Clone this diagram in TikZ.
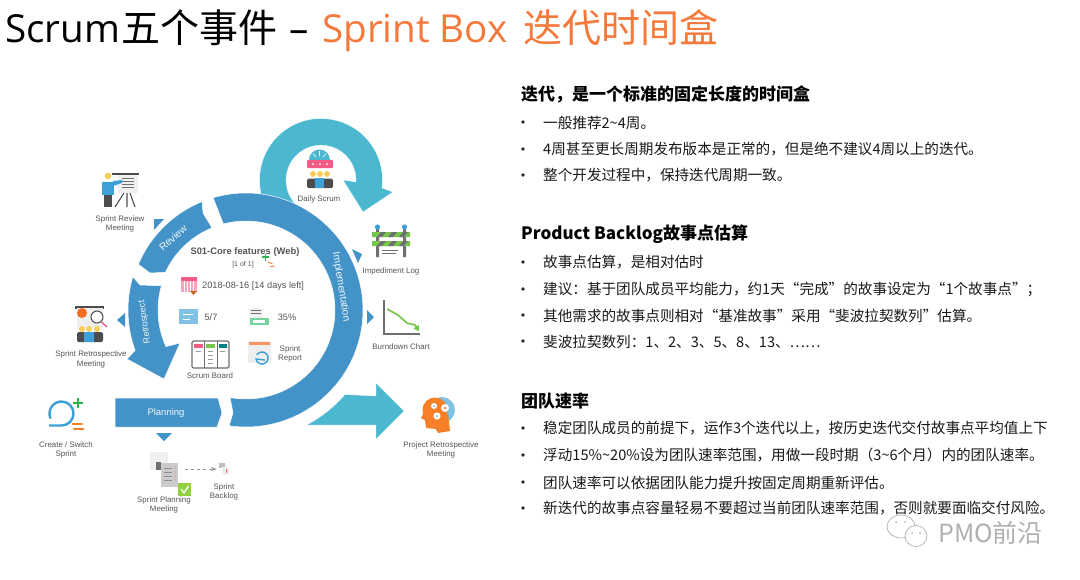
\documentclass[tikz,border=0pt]{standalone}
\usepackage{fontspec}
\setmainfont{Liberation Sans}
\newfontfamily\cjk{Noto Sans CJK SC}
\newfontfamily\titlefont{Open Sans}
\usetikzlibrary{positioning,arrows.meta}
\definecolor{ringblue}{HTML}{4393C8}
\definecolor{loopteal}{HTML}{4BB8D0}
\definecolor{titleorange}{HTML}{F4793B}
\definecolor{labelgrey}{HTML}{555555}
\definecolor{icongrey}{HTML}{6D6F71}
\definecolor{icondark}{HTML}{4D4D4F}
\definecolor{iconpale}{HTML}{EFEFEF}
\definecolor{iconyellow}{HTML}{F9CE58}
\definecolor{iconpink}{HTML}{F25C86}
\definecolor{iconblue}{HTML}{3DA0D6}
\definecolor{icongreen}{HTML}{77C64C}
\definecolor{plusgreen}{HTML}{2FB350}
\definecolor{iconorange}{HTML}{F77F27}
\definecolor{markgrey}{HTML}{B0B0B0}
\tikzset{
  titlelatin/.style={anchor=base west, font=\titlefont\fontsize{38.6}{44}\selectfont},
  titlecjk/.style={anchor=base west, font=\cjk\fontsize{39}{44}\selectfont},
  itemtext/.style={anchor=west, font=\cjk\fontsize{14.6}{16}\selectfont, text=black!90},
  itemhead/.style={anchor=west, font=\cjk\bfseries\fontsize{17}{20}\selectfont, text=black},
  bulletdot/.style={circle, fill=black!85, minimum size=3.6pt},
  iconlabel/.style={align=center, font=\fontsize{7.9}{9.6}\selectfont, text=labelgrey},
  ringlabel/.style={font=\fontsize{10.2}{12}\selectfont, text=white!92!ringblue},
  infotext/.style={font=\fontsize{9.2}{11}\selectfont, text=labelgrey},
  ringpart/.style={fill=ringblue, draw=white, line width=.5pt},
  looparrow/.style={fill=loopteal, draw=white, line width=.3pt},
  smallhead/.style={fill=ringblue},
  iconspot/.style={inner sep=0pt, minimum size=16pt}
}
\begin{document}
\begin{tikzpicture}[x=1pt, y=1pt, yscale=-1, inner sep=0pt, line cap=butt]
  \useasboundingbox (0,0) rectangle (1080,579);
  \fill[white] (0,0) rectangle (1080,579);

  \node[titlelatin] (scrum) at (5,42) {Scrum};
  \node[titlecjk] (fiveevents) at (121,42) {五个事件};
  \node[titlelatin] (dash) at (289,42) {–};
  \node[titlelatin, text=titleorange] (sprintbox) at (322,42) {Sprint Box};
  \node[titlecjk, text=titleorange] (timebox) at (523,42) {迭代时间盒};

  \node[itemhead] (head1) at (521,94) {迭代，是一个标准的固定长度的时间盒};
  \node[itemtext] (a1) at (543,122.5) {一般推荐2\textasciitilde4周。};
  \node[itemtext] (a2) at (543,149.5) {4周甚至更长周期发布版本是正常的，但是绝不建议4周以上的迭代。};
  \node[itemtext] (a3) at (543,175.5) {整个开发过程中，保持迭代周期一致。};

  \node[itemhead] (head2) at (521,234) {Product Backlog故事点估算};
  \node[itemtext] (b1) at (543,262.5) {故事点估算，是相对估时};
  \node[itemtext] (b2) at (543,289.5) {建议：基于团队成员平均能力，约1天“完成”的故事设定为“1个故事点”；};
  \node[itemtext] (b3) at (543,315.5) {其他需求的故事点则相对“基准故事”采用“斐波拉契数列”估算。};
  \node[itemtext] (b4) at (543,341.5) {斐波拉契数列：1、2、3、5、8、13、……};

  \node[itemhead] (head3) at (521,401) {团队速率};
  \node[itemtext] (c1) at (543,428.5) {稳定团队成员的前提下，运作3个迭代以上，按历史迭代交付故事点平均值上下};
  \node[itemtext] (c2) at (543,455.5) {浮动15\%\textasciitilde20\%设为团队速率范围，用做一段时期（3\textasciitilde6个月）内的团队速率。};
  \node[itemtext] (c3) at (543,482.5) {团队速率可以依据团队能力提升按固定周期重新评估。};
  \node[itemtext] (c4) at (543,508.5) {新迭代的故事点容量轻易不要超过当前团队速率范围，否则就要面临交付风险。};
  \foreach \y in {122,149,175,262,289,315,341,428,455,482,508}
    \node[bulletdot] (dot\y) at (523,\y) {};

  % daily loop and exit arrow
  \begin{scope}[shift={(321,180)}]
    \fill[looparrow] (150:61.5) arc[start angle=150, end angle=367.5, radius=61.5]
      -- (72,12) -- (42,32) -- (22,0) -- (35,2)
      arc[start angle=3, end angle=-230, radius=35] -- cycle;
  \end{scope}
  \begin{scope}[shift={(246,310)}]
    \fill[looparrow] (62:130) arc[start angle=62, end angle=40.7, radius=131]
      -- (130,86) -- (130,73) -- (158,101) -- (130,129) -- (130,115) -- (61,115) -- cycle;
    \path[ringpart] (-106.3:117) arc[start angle=-106.3, end angle=98.3, radius=117]
      -- (-13,103) -- (100.3:89) arc[start angle=100.3, end angle=-104.7, radius=89] -- cycle;
    \path[ringpart] (-112:117) arc[start angle=-112, end angle=-157, radius=117]
      -- (-96,-37) -- (-155:89) arc[start angle=-155, end angle=-112.5, radius=89]
      -- (-43,-97) -- cycle;
    \path[ringpart] (196.4:118) arc[start angle=196.4, end angle=160, radius=118]
      -- (-119,49) -- (-82,69) -- (-66,33) -- (155.4:88)
      arc[start angle=155.4, end angle=196, radius=88] -- (-106,-25) -- cycle;
  \end{scope}
  \path[ringpart] (115,398) -- (218,398) -- (222,413) -- (217,427) -- (115,427) -- cycle;

  \fill[smallhead] (154,219) -- (164,219) -- (154,230) -- cycle;
  \fill[smallhead] (352,249) -- (362,254) -- (358,263) -- cycle;
  \fill[smallhead] (367,310) -- (374,317) -- (367,324) -- cycle;
  \fill[smallhead] (125,313) -- (117,320) -- (125,327) -- cycle;
  \fill[smallhead] (156,433) -- (172,433) -- (164,441) -- cycle;

  \node[ringlabel, rotate=42] (review) at (173,238) {Review};
  \node[ringlabel, rotate=-81] (impl) at (341,287) {Implementation};
  \node[ringlabel, font=\fontsize{9}{11}\selectfont, rotate=98] (retro) at (145,322) {Retrospect};
  \node[ringlabel, font=\fontsize{9.5}{11}\selectfont] (plan) at (166,413.5) {Planning};

  % centre of the ring
  \node[infotext, font=\bfseries\fontsize{9.4}{11}\selectfont] (core) at (245,252) {S01-Core features (Web)};
  \node[iconlabel, font=\fontsize{7}{8}\selectfont] (count) at (243,265) {[1 of 1]};
  \draw[plusgreen, line width=1.2pt] (262,257) -- (269,257) (265.5,253.5) -- (265.5,260.5);
  \draw[iconorange, line width=.8pt, -{Latex[length=2pt]}] (268,262) -- (273,264);
  \draw[iconorange, line width=.8pt, -{Latex[length=2pt]}] (270,266) -- (275,266);
  \node[infotext, anchor=west] (date) at (202,286) {2018-08-16 [14 days left]};
  \node[infotext] (done) at (211,317) {5/7};
  \node[infotext] (rate) at (287,317) {35\%};

  \fill[iconpink!55] (181,280) rectangle (197,292);
  \fill[iconpink] (181,277) rectangle (197,281);
  \foreach \i in {184,187,190,193} \draw[white, line width=.4pt] (\i,281) -- (\i,292);
  \fill[iconorange!80!black] (190,291) -- (197,291) -- (193.5,295) -- cycle;
  \fill[iconblue!65] (179,309) rectangle (198,324);
  \draw[white, line width=.8pt] (183,314) -- (193,314) (183,319) -- (190,319);
  \fill[white!90!icongrey] (249,308) rectangle (263,318);
  \draw[icongrey, line width=.5pt] (251,310) -- (261,310) (251,313) -- (261,313);
  \fill[green!40!teal!55] (250,318) rectangle (269,325);
  \fill[white] (253,320) rectangle (265,323);

  \draw[icongrey, line width=1.1pt, rounded corners=1.5pt, fill=white] (192,341) rectangle (229,368);
  \draw[icongrey, line width=.7pt] (204.5,341) -- (204.5,368) (217,341) -- (217,368);
  \fill[iconpink] (194,344) rectangle (203,348);
  \fill[icongreen] (206,344) rectangle (215,348);
  \fill[teal] (219,344) rectangle (227,348);
  \draw[icongrey!70, line width=.6pt] (196,351) -- (201,351) (208,351) -- (213,351) (208,355) -- (213,355) (208,359) -- (213,359) (208,363) -- (213,363) (220,351) -- (225,351);
  \node[iconlabel] (boardtxt) at (210,376) {Scrum Board};

  \fill[iconpale] (248,341) rectangle (271,363);
  \fill[titleorange!80] (249,342) rectangle (270,344.5);
  \draw[iconblue, line width=1.4pt] (262,358) ++(-150:6) arc[start angle=-150, end angle=170, radius=6] -- ++(9,1);
  \node[iconlabel, anchor=west] (reporttxt) at (278,354) {Sprint\\Report};

  % icons around the ring
  \fill[icondark] (112,172.5) rectangle (139,174.5);
  \fill[iconpale] (118,175) rectangle (138,193);
  \draw[icongrey, line width=.9pt] (122,178) -- (134,178) (122,181) -- (134,181) (122,184) -- (134,184) (122,187) -- (134,187);
  \draw[icondark, line width=1.1pt] (124,193) -- (115,207) (127,193) -- (127,207) (130,193) -- (135,207);
  \fill[iconyellow] (108,176) circle[radius=3.3];
  \fill[iconblue] (102,182) rectangle (114,195);
  \fill[iconblue] (113,181) -- (122,180) -- (122,183) -- (113,186) -- cycle;
  \fill[icondark] (104,195) rectangle (112,207);
  \node[iconlabel] (reviewtxt) at (120,224) {Sprint Review\\Meeting};

  \fill[loopteal] (309,160) arc[start angle=180, end angle=360, radius=10.5] -- cycle;
  \draw[white, line width=.6pt] (319.5,151) -- (319.5,156) (313,153.5) -- (316,157) (326,153.5) -- (323,157);
  \fill[iconpink, rounded corners=1pt] (307,160) rectangle (333,168);
  \foreach \x in {313,320,327} {
    \fill[white] (\x,164) circle[radius=1];
    \fill[iconyellow] (\x,174) circle[radius=3];
  }
  \fill[icondark, rounded corners=1.5pt] (307,178.5) rectangle (333,188);
  \fill[iconblue] (315,178) rectangle (324,188);
  \node[iconlabel] (dailytxt) at (319,199) {Daily Scrum};

  \fill[icongrey] (376,229) rectangle (379,257) (403,229) rectangle (406,257);
  \fill[iconblue] (377.5,227) circle[radius=2.6] (404.5,227) circle[radius=2.6];
  \fill[icongreen] (372,232) rectangle (410,237) (372,241) rectangle (410,246);
  \foreach \x in {381,392,403} {
    \fill[icongrey] (\x,232) -- (\x+5,232) -- (\x+1,237) -- (\x-4,237) -- cycle;
    \fill[icongrey] (\x,241) -- (\x+5,241) -- (\x+1,246) -- (\x-4,246) -- cycle;
  }
  \draw[icongrey, line width=.8pt] (382,250) -- (398,250) (382,253) -- (396,253);
  \node[iconlabel] (logtxt) at (391,271) {Impediment Log};

  \draw[icongrey, line width=1.1pt] (384,300) -- (384,334) -- (420,334);
  \draw[icongreen, line width=1.7pt, -{Triangle[length=5pt,width=6pt]}] (387,309) -- (398,315) -- (407,323) -- (415,325) -- (419,331);
  \node[iconlabel] (burntxt) at (401,347) {Burndown Chart};

  \fill[icondark] (75,306) rectangle (104,308.5);
  \fill[iconpale] (77,308) rectangle (103,328);
  \fill[iconorange!85!red] (82,313) circle[radius=5];
  \draw[icondark, line width=1pt, fill=white] (97,317) circle[radius=6];
  \draw[iconpink, line width=1.4pt] (101.5,322) -- (107,327);
  \foreach \x in {82,89,97} \fill[iconyellow] (\x,329) circle[radius=3];
  \fill[icondark, rounded corners=1.5pt] (77,332) rectangle (103,342);
  \fill[iconblue] (84,332) rectangle (94,342);
  \node[iconlabel] (retrotxt) at (91,359.5) {Sprint Retrospective\\Meeting};

  \draw[iconblue, line width=2.4pt] (49,425.5) -- (61.5,425.5) arc[start angle=90, end angle=-205, radius=12];
  \draw[plusgreen, line width=2.4pt] (73,403) -- (83,403) (78,398) -- (78,408);
  \draw[iconorange, line width=1.2pt, -{Latex[length=3pt]}] (72,424) -- (84,424);
  \draw[iconorange, line width=1.2pt, {Latex[length=3pt]}-] (72,429) -- (84,429);
  \node[iconlabel] (createtxt) at (66,450) {Create / Switch\\Sprint};

  \node[iconspot, minimum size=30pt] (planicon) at (170,469) {};
  \fill[iconpale] (150,452) rectangle (168,470);
  \fill[icongrey] (156,470) rectangle (161,462);
  \fill[iconpale!85!black] (161,463) rectangle (178,487);
  \draw[icongrey!80, line width=.5pt] (164,468) -- (172,468) (164,472) -- (172,472) (164,476) -- (172,476) (164,480) -- (172,480);
  \fill[red!70] (175,468) circle[radius=.7] (175,472) circle[radius=.7] (175,476) circle[radius=.7] (175,480) circle[radius=.7];
  \fill[icongreen!80!yellow] (178,483) rectangle (191,496);
  \draw[white, line width=1.3pt] (181,489) -- (184,493) -- (188.5,486);
  \node[iconlabel] (plantxt) at (164,505) {Sprint Planning\\Meeting};

  \node[iconspot, minimum size=12pt] (backlogicon) at (223,469) {};
  \fill[iconpale!80!black] (219,463) rectangle (225,468);
  \fill[iconpale] (222,467) rectangle (229,475);
  \fill[red!60] (226,469) rectangle (227,473);
  \draw[icongrey!70, dashed, line width=.6pt, -{Stealth[length=6pt]}] (planicon) -- (backlogicon);
  \node[iconlabel] (backlogtxt) at (224,492) {Sprint\\Backlog};

  \fill[iconblue!65] (442,410) circle[radius=13];
  \fill[iconblue!65] (436,418) rectangle (448,431);
  \fill[iconorange] (435,410) circle[radius=12.5];
  \fill[iconorange] (424,412) -- (421,418) -- (425,420) -- (426,428) -- (436,429) -- (438,433) -- (450,431) -- (448,414) -- cycle;
  \fill[white] (434,406) circle[radius=3] (445,408) circle[radius=4] (437,416) circle[radius=3.6];
  \fill[iconblue!65] (434,406) circle[radius=1] (437,416) circle[radius=1.2];
  \fill[iconorange] (445,408) circle[radius=1.4];
  \node[iconlabel] (projecttxt) at (441,450) {Project Retrospective\\Meeting};

  % watermark
  \draw[markgrey, line width=.7pt, fill=white] (901,526.5) ellipse[x radius=14, y radius=11.5];
  \draw[markgrey, line width=.7pt, fill=white] (916,536) ellipse[x radius=11, y radius=10.5];
  \fill[markgrey] (896,522) circle[radius=1] (905,522) circle[radius=1] (912,533) circle[radius=1] (920,533) circle[radius=1];
  \node[anchor=west, font=\cjk\fontsize{25}{28}\selectfont, text=markgrey] (mark) at (938,533) {PMO前沿};
\end{tikzpicture}
\end{document}
